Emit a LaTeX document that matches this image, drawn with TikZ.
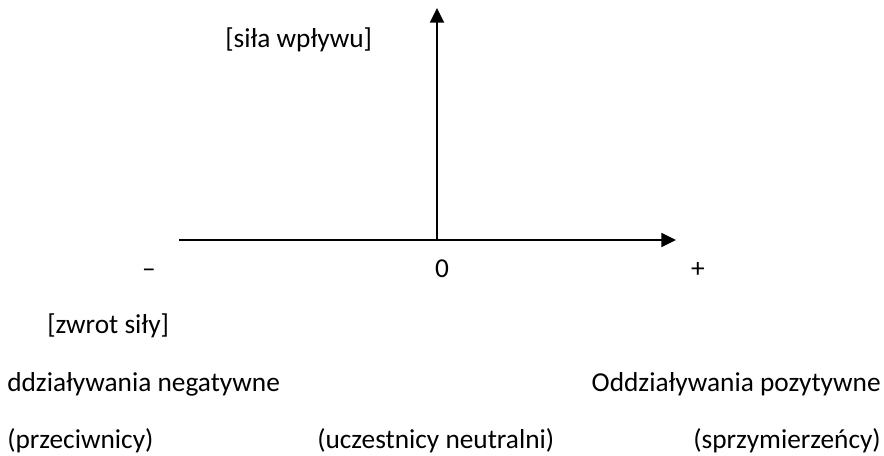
\documentclass[tikz,border=0pt]{standalone}
\usepackage{fontspec}
\setmainfont{Carlito}
\usetikzlibrary{arrows.meta}
\begin{document}
\begin{tikzpicture}[x=0.75pt,y=-0.75pt,
  axis/.style={line width=1.5pt,-{Triangle[length=11pt,width=10.5pt]}},
  lbl/.style={inner sep=0pt,font=\fontsize{20.5pt}{24pt}\selectfont}]
\useasboundingbox (0,0) rectangle (884,455);
% axes
\coordinate (o) at (437,240);
\coordinate (xend) at (676,240);
\coordinate (xstart) at (179,240);
\coordinate (ytop) at (437,8);
\draw[axis] (xstart) -- (xend);
\draw[axis] (o) -- (ytop);
% labels
\node[lbl,anchor=base west] (sila) at (225,47) {[siła wpływu]};
\node[lbl,anchor=base] (minus) at (149,277) {–};
\node[lbl,anchor=base] (zero) at (442,277) {0};
\node[lbl,anchor=base] (plus) at (698,277) {+};
\node[lbl,anchor=base west] (zwrot) at (47,333) {[zwrot siły]};
\node[lbl,anchor=base west] (neg) at (7,391) {ddziaływania negatywne};
\node[lbl,anchor=base east] (poz) at (881,391) {Oddziaływania pozytywne};
\node[lbl,anchor=base west] (prz) at (7,448) {(przeciwnicy)};
\node[lbl,anchor=base west] (neu) at (317,448) {(uczestnicy neutralni)};
\node[lbl,anchor=base east] (spr) at (881,448) {(sprzymierzeńcy)};
\end{tikzpicture}
\end{document}
